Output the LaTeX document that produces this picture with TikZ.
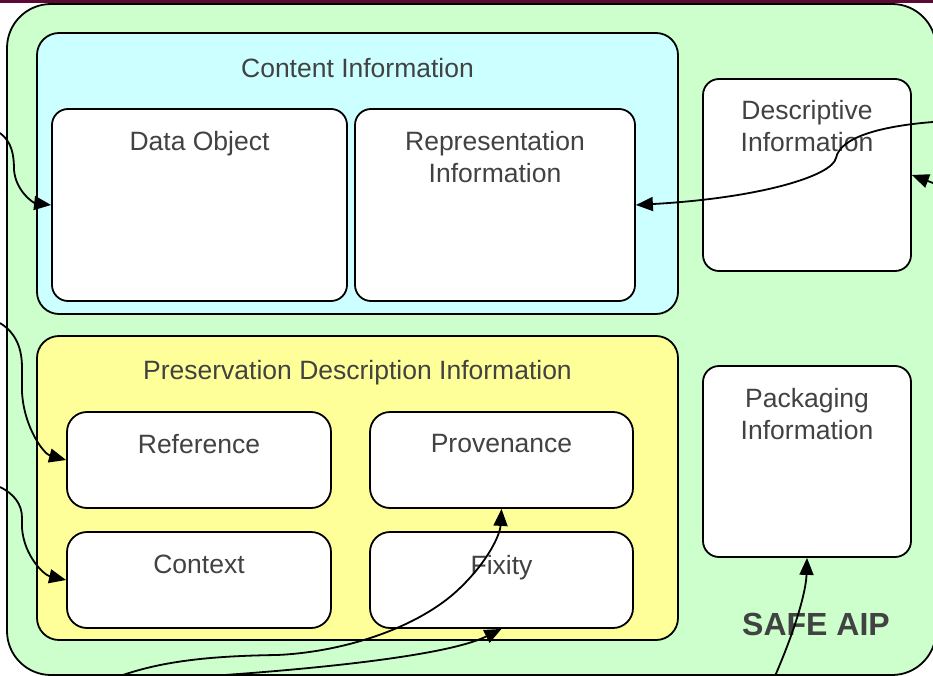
\documentclass[tikz,border=0pt]{standalone}
\usepackage{fontspec}
\setmainfont{Liberation Sans}
\usetikzlibrary{arrows.meta}
\definecolor{aipgreen}{HTML}{CCFFCC}
\definecolor{ciblue}{HTML}{CCFFFF}
\definecolor{pdiyellow}{HTML}{FFFF99}
\definecolor{txtgray}{HTML}{424242}
\definecolor{bandred}{HTML}{5C0A33}
\begin{document}
\begin{tikzpicture}[x=1pt,y=-1pt,
  frame/.style={draw=black, line width=1.8pt, inner sep=0pt},
  box/.style={frame, rounded corners=16pt, fill=white},
  lab/.style={font=\fontsize{26.5}{32}\selectfont, text=txtgray, align=center,
              anchor=north, inner sep=0pt},
  conn/.style={line width=1.8pt, -{Triangle[length=17pt,width=14pt]}}]
\useasboundingbox (0,0) rectangle (933,676);

% thin band along the top edge
\fill[bandred] (0,0) rectangle (933,3);

% package container
\node[frame, fill=aipgreen, rounded corners=44pt,
      minimum width=929pt, minimum height=671pt] (aip) at (471.5,339.5) {};
\node[font=\bfseries\fontsize{32}{36}\selectfont, text=txtgray] (safe) at (816,624) {SAFE AIP};

% content information group
\node[frame, fill=ciblue, rounded corners=22pt,
      minimum width=641pt, minimum height=281pt] (ci) at (357.5,173.5) {};
\node[lab] (tci) at ([yshift=-26pt]ci.north) {Content Information};
\node[box, minimum width=295pt, minimum height=192pt] (dobj) at (199.5,205) {};
\node[lab] (tdobj) at ([yshift=-23pt]dobj.north) {Data Object};
\node[box, minimum width=280pt, minimum height=192pt] (rep) at (495,205) {};
\node[lab] (trep) at ([yshift=-23pt]rep.north) {Representation\\Information};

% preservation description information group
\node[frame, fill=pdiyellow, rounded corners=22pt,
      minimum width=641pt, minimum height=304pt] (pdi) at (357.5,488) {};
\node[lab] (tpdi) at ([yshift=-25pt]pdi.north) {Preservation Description Information};
\node[box, rounded corners=20pt, minimum width=264pt, minimum height=96pt] (ref) at (199,460) {};
\node[lab] (tref) at ([yshift=-23pt]ref.north) {Reference};
\node[box, rounded corners=20pt, minimum width=263pt, minimum height=96pt] (prov) at (501.5,460) {};
\node[lab] (tprov) at ([yshift=-23pt]prov.north) {Provenance};
\node[box, rounded corners=20pt, minimum width=264pt, minimum height=96pt] (ctx) at (199,580) {};
\node[lab] (tctx) at ([yshift=-24pt]ctx.north) {Context};
\node[box, rounded corners=20pt, minimum width=263pt, minimum height=96pt] (fix) at (501.5,580) {};
\node[lab] (tfix) at ([yshift=-24pt]fix.north) {Fixity};

% descriptive and packaging information
\node[box, minimum width=208pt, minimum height=192pt] (desc) at (807,175) {};
\node[lab] (tdesc) at ([yshift=-22pt]desc.north) {Descriptive\\Information};
\node[box, minimum width=208pt, minimum height=191pt] (pack) at (807,461.5) {};
\node[lab] (tpack) at ([yshift=-23pt]pack.north) {Packaging\\Information};

% loose ends of the incoming links
\coordinate (in1) at (0,133);
\coordinate (in2) at (0,323);
\coordinate (in3) at (0,487);
\coordinate (in4) at (120,676);
\coordinate (in5) at (210,676);
\coordinate (in6) at (933,122);
\coordinate (in7) at (933,183);
\coordinate (in8) at (775,676);

% incoming links
\draw[conn] (in1) .. controls (12,142) and (14,155) .. (14,170)
  .. controls (16,192) and (34,203) .. (dobj.west);
\draw[conn] (in2) .. controls (16,333) and (22,348) .. (22,368) -- (22,392)
  .. controls (24,428) and (44,454) .. (ref.west);
\draw[conn] (in3) .. controls (14,494) and (22,504) .. (22,518) -- (22,528)
  .. controls (24,556) and (44,575) .. (ctx.west);
\draw[conn] (in4) .. controls (160,662) and (205,656) .. (277,655)
  .. controls (345,652) and (420,627) .. (460,588)
  .. controls (488,561) and (500,535) .. (prov.south);
\draw[conn] (in5) .. controls (300,670) and (445,657) .. (fix.south);
\draw[conn] (in6) .. controls (882,126) and (840,137) .. (836,158)
  .. controls (832,176) and (760,198) .. (rep.east);
\draw[conn] (in7) -- (desc.east);
\draw[conn] (in8) .. controls (795,630) and (806,592) .. (pack.south);
\end{tikzpicture}
\end{document}
